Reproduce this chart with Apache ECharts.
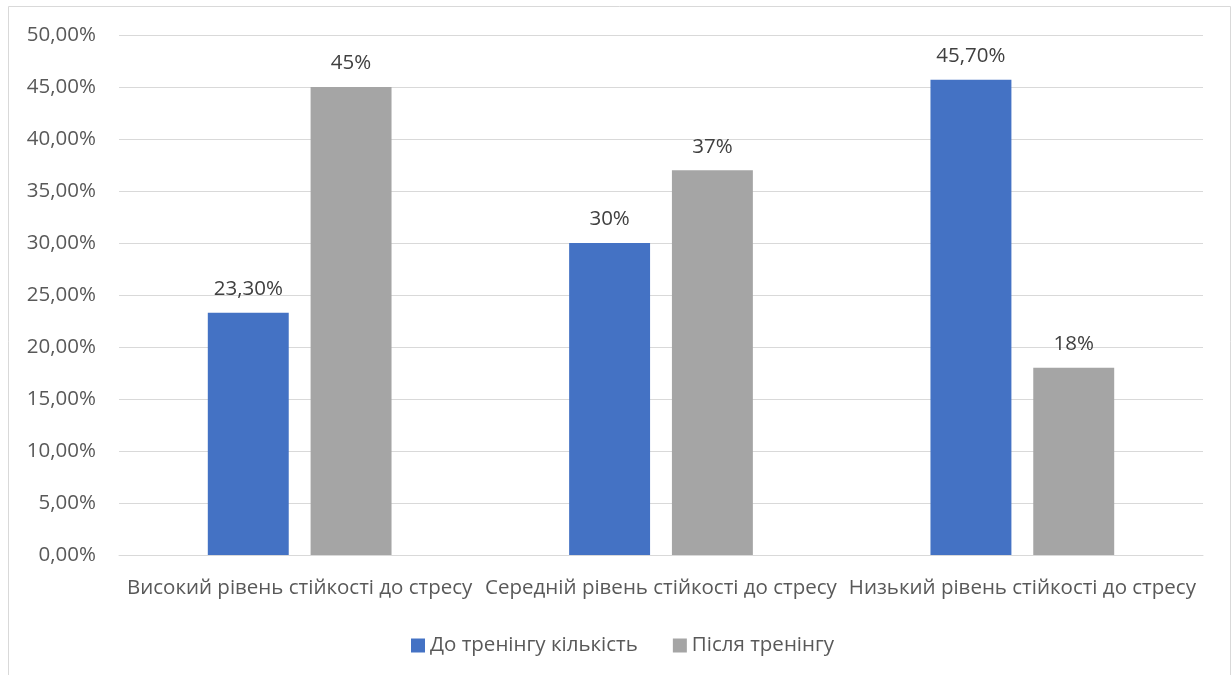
<!DOCTYPE html>
<html>
<head>
<meta charset="utf-8">
<script src="https://cdn.jsdelivr.net/npm/echarts@6/dist/echarts.min.js"></script>
<style>
html, body { margin: 0; padding: 0; background: #fff; }
#chart { width: 1232px; height: 675px; }
</style>
</head>
<body>
<div id="chart"></div>
<script>
// Рівні стійкості до стресу, частка учасників (%)
const categories = [
  'Високий рівень стійкості до стресу',
  'Середній рівень стійкості до стресу',
  'Низький рівень стійкості до стресу'
];
const seriesNames = ['До тренінгу кількість', 'Після тренінгу'];
const beforeValues = [23.3, 30, 45.7];
const afterValues = [45, 37, 18];
const yTicks = [0, 5, 10, 15, 20, 25, 30, 35, 40, 45, 50];

const FONT = '"Open Sans", sans-serif';
const TEXT = '#595959';
const SIZE = 20.5;

function pctLabel(v) {
  return Number.isInteger(v) ? v + '%' : v.toFixed(2).replace('.', ',') + '%';
}
function axisLabel(v) {
  return v.toFixed(2).replace('.', ',') + '%';
}

const chart = echarts.init(document.getElementById('chart'));

const barLabel = {
  show: true,
  position: 'top',
  distance: 13,
  color: '#404040',
  fontFamily: FONT,
  fontSize: SIZE,
  formatter: p => pctLabel(p.value)
};

chart.setOption({
  animation: false,
  backgroundColor: '#fff',
  graphic: [{
    type: 'rect',
    shape: { x: 8.5, y: 6.5, width: 1222, height: 720 },
    style: { fill: 'none', stroke: '#d9d9d9', lineWidth: 1 },
    silent: true
  }],
  grid: { left: 119, right: 29, top: 35, bottom: 120 },
  legend: {
    bottom: 19,
    left: 411,
    padding: 0,
    itemWidth: 14,
    itemHeight: 14,
    itemGap: 35,
    icon: 'rect',
    textStyle: { color: TEXT, fontFamily: FONT, fontSize: SIZE },
    data: seriesNames
  },
  xAxis: {
    type: 'category',
    data: categories,
    axisLine: { show: true, lineStyle: { color: '#d9d9d9' } },
    axisTick: { show: false },
    axisLabel: { color: TEXT, fontFamily: FONT, fontSize: SIZE, margin: 23, interval: 0 }
  },
  yAxis: {
    type: 'value',
    min: yTicks[0],
    max: yTicks[yTicks.length - 1],
    interval: 5,
    axisLine: { show: false },
    axisTick: { show: false },
    splitLine: { lineStyle: { color: '#d9d9d9', width: 1 } },
    axisLabel: { color: TEXT, fontFamily: FONT, fontSize: SIZE, margin: 23, formatter: axisLabel }
  },
  series: [
    {
      name: seriesNames[0],
      type: 'bar',
      data: beforeValues,
      barWidth: '22.4%',
      barGap: '27%',
      itemStyle: { color: '#4472c4' },
      label: barLabel
    },
    {
      name: seriesNames[1],
      type: 'bar',
      data: afterValues,
      barWidth: '22.4%',
      itemStyle: { color: '#a5a5a5' },
      label: barLabel
    }
  ]
});
</script>
</body>
</html>
